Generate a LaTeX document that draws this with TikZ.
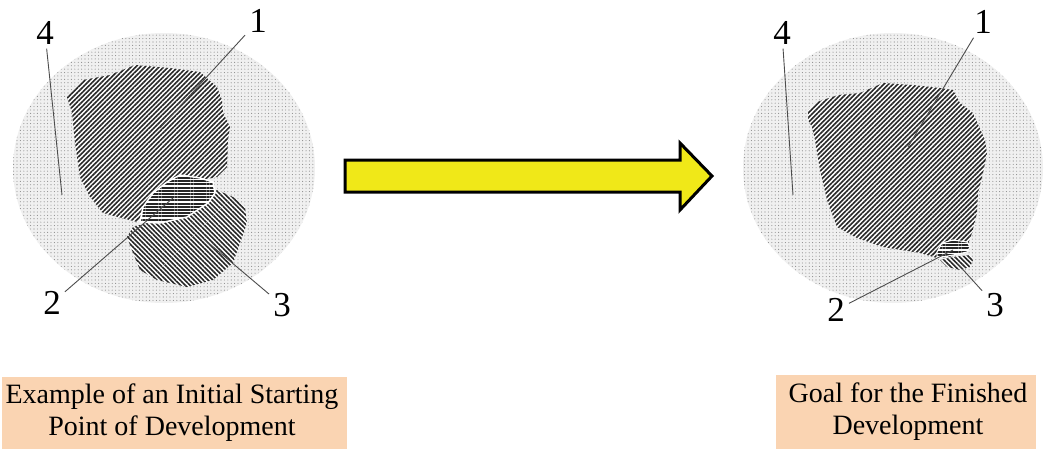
\documentclass[tikz,border=0pt]{standalone}
\usepackage{fontspec}
\setmainfont{Liberation Serif}
\usetikzlibrary{patterns.meta}
\definecolor{peach}{HTML}{FAD4B2}
\definecolor{arrowyellow}{HTML}{F0E818}
\begin{document}
\begin{tikzpicture}[x=1pt,y=-1pt,
  stipple/.style={preaction={fill=black!6},pattern={Dots[distance=3.4pt,radius=0.55pt]},pattern color=black!45},
  hatchA/.style={preaction={fill=white},pattern={Lines[angle=45,distance=3.3pt,line width=1.6pt]},pattern color=black!85},
  hatchB/.style={preaction={fill=white},pattern={Lines[angle=0,distance=3.2pt,line width=1.9pt]},pattern color=black!85},
  hatchC/.style={preaction={fill=white},pattern={Lines[angle=-45,distance=3.3pt,line width=1.6pt]},pattern color=black!85},
  num/.style={font=\fontsize{35}{36}\selectfont,inner sep=4pt},
  leader/.style={draw=black!70,line width=0.9pt},
  caption/.style={fill=peach,font=\fontsize{28}{32}\selectfont,align=center,inner sep=0pt}]
\useasboundingbox (0,0) rectangle (1044,450);
% ---------- left diagram ----------
\fill[stipple] (164,168) ellipse [x radius=151, y radius=135];
\fill[hatchC] (217,190) -- (233,197) -- (245,207) -- (247,223) -- (240,243) -- (233,263) -- (213,280) -- (187,287) -- (157,280) -- (140,270) -- (133,253) -- (127,237) -- (133,227) -- (150,222) -- (190,215) -- cycle;
\fill[hatchA] (67,97) -- (83,80) -- (110,75) -- (135,65) -- (170,68) -- (200,72) -- (217,87) -- (222,100) -- (223,113) -- (230,127) -- (228,140) -- (227,167) -- (217,177) -- (190,182) -- (160,200) -- (137,222) -- (103,213) -- (90,197) -- (80,177) -- (75,143) -- (72,113) -- cycle;
\filldraw[hatchB,draw=white,line width=1.5pt] (180,175) -- (200,178) -- (213,182) -- (215,193) -- (208,203) -- (187,217) -- (160,223) -- (140,222) -- (143,207) -- (153,193) -- (167,182) -- cycle;
\node[num] (l1) at (258,21) {1};
\node[num] (l4) at (45,33) {4};
\node[num] (l2) at (52,303) {2};
\node[num] (l3) at (282,305) {3};
\coordinate (lc1) at (160,128);
\coordinate (lc4) at (62,195);
\coordinate (lc2) at (173,198);
\coordinate (lc3) at (205,240);
\draw[leader] (l1) -- (lc1);
\draw[leader] (l4) -- (lc4);
\draw[leader] (l2) -- (lc2);
\draw[leader] (l3) -- (lc3);
% ---------- arrow ----------
\draw[fill=arrowyellow,line width=3pt,line join=miter]
  (345,160) -- (680,160) -- (680,143) -- (712,176) -- (680,210) -- (680,192) -- (345,192) -- cycle;
% ---------- right diagram ----------
\fill[stipple] (893,168) ellipse [x radius=150, y radius=135];
\fill[hatchC] (940,260) -- (953,257) -- (970,255) -- (973,260) -- (970,267) -- (960,270) -- (947,267) -- cycle;
\fill[hatchA] (808,110) -- (817,102) -- (838,95) -- (860,93) -- (883,83) -- (913,85) -- (940,88) -- (953,90) -- (960,103) -- (973,113) -- (985,140) -- (987,153) -- (983,173) -- (978,193) -- (977,213) -- (972,233) -- (967,247) -- (950,257) -- (937,258) -- (920,253) -- (883,247) -- (857,238) -- (837,227) -- (827,200) -- (820,170) -- (815,140) -- (812,127) -- (808,120) -- cycle;
\filldraw[hatchB,draw=white,line width=1pt] (942,243) -- (953,240) -- (967,242) -- (970,247) -- (967,252) -- (953,255) -- (937,258) -- (937,252) -- cycle;
\node[num] (r1) at (983,22) {1};
\node[num] (r4) at (782,33) {4};
\node[num] (r2) at (836,310) {2};
\node[num] (r3) at (995,305) {3};
\coordinate (rc1) at (908,147);
\coordinate (rc4) at (793,195);
\coordinate (rc2) at (953,250);
\coordinate (rc3) at (957,263);
\draw[leader] (r1) -- (rc1);
\draw[leader] (r4) -- (rc4);
\draw[leader] (r2) -- (rc2);
\draw[leader] (r3) -- (rc3);
% ---------- captions ----------
\fill[peach] (2,377) rectangle (347,449);
\node[caption] (capL) at (172,413) {Example of an Initial Starting\\Point of Development};
\fill[peach] (776,375) rectangle (1036,449);
\node[caption] (capR) at (908,412) {Goal for the Finished\\Development};
\end{tikzpicture}
\end{document}
